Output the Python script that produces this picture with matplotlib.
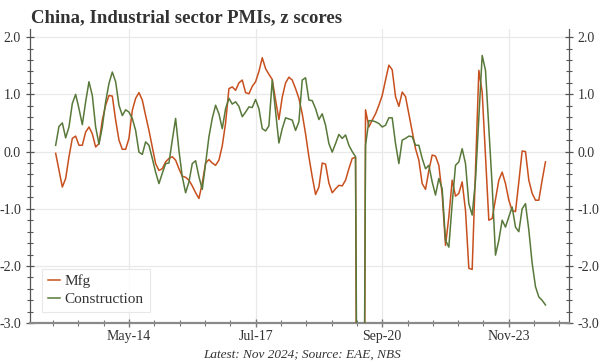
import numpy as np
import matplotlib.pyplot as plt
from matplotlib.ticker import FixedLocator, MultipleLocator, FormatStrFormatter

# z scores, monthly, first point mid-2012 .. latest Nov 2024
mfg = [-0.03, -0.33, -0.62, -0.47, -0.09, 0.23, 0.27, 0.11, 0.11, 0.34,
       0.43, 0.31, 0.08, 0.14, 0.55, 0.81, 0.98, 0.97, 0.55, 0.2,
       0.04, 0.04, 0.23, 0.72, 0.93, 1.03, 0.9, 0.63, 0.37, 0.08,
       -0.21, -0.33, -0.3, -0.18, -0.12, -0.09, -0.15, -0.3, -0.43, -0.45,
       -0.5, -0.6, -0.72, -0.82, -0.55, -0.2, -0.14, -0.2, -0.24, -0.15,
       0.1, 0.5, 1.1, 1.13, 1.07, 1.2, 1.25, 1.03, 1.01, 1.14,
       1.22, 1.4, 1.64, 1.45, 1.35, 1.26, 0.9, 0.56, 0.95, 1.2,
       1.3, 1.25, 1.1, 0.93, 0.66, 0.31, -0.09, -0.44, -0.75, -0.62,
       -0.2, -0.22, -0.55, -0.72, -0.65, -0.59, -0.6, -0.5, -0.3, -0.12,
       -0.1, -15.0, -15.0, 0.73, 0.43, 0.55, 0.66, 0.81, 0.98, 1.25,
       1.51, 1.43, 0.96, 0.79, 1.04, 0.96, 0.66, 0.37, 0.05, -0.15,
       -0.56, -0.66, -0.33, -0.06, -0.08, -0.24, -0.75, -1.64, -1.14, -0.5,
       -0.78, -0.73, -0.53, -1.03, -2.04, -2.06, -0.32, 1.42, 1.04, -0.09,
       -1.2, -1.17, -0.83, -0.5, -0.36, -0.56, -0.85, -1.03, -1.05, -0.53,
       0.01, 0.0, -0.5, -0.73, -0.85, -0.85, -0.5, -0.18]

constr = [0.11, 0.44, 0.5, 0.24, 0.43, 0.84, 1.0, 0.75, 0.47, 0.87,
          1.22, 0.98, 0.43, 0.13, 0.43, 0.87, 1.19, 1.39, 1.22, 0.81,
          0.63, 0.73, 0.69, 0.58, 0.37, -0.01, -0.05, 0.17, 0.11, -0.12,
          -0.36, -0.56, -0.38, -0.21, -0.2, 0.2, 0.58, 0.02, -0.44, -0.72,
          -0.53, -0.21, -0.16, -0.44, -0.66, -0.21, 0.26, 0.58, 0.81, 0.66,
          0.4, 0.75, 0.93, 0.83, 0.87, 0.79, 0.61, 0.69, 0.78, 0.77,
          0.91, 0.75, 0.4, 0.36, 0.45, 1.25, 0.7, 0.15, 0.4, 0.59,
          0.57, 0.55, 0.37, 0.52, 1.25, 1.29, 0.9, 0.89, 0.75, 0.56,
          0.66, 0.46, 0.14, -0.01, 0.14, 0.3, 0.23, 0.29, 0.11, 0.0,
          -0.09, -11.0, -11.0, 0.11, 0.54, 0.54, 0.52, 0.49, 0.43, 0.46,
          0.59, 0.59, 0.14, -0.21, 0.2, 0.23, 0.27, 0.26, 0.11, 0.11,
          -0.12, -0.3, -0.24, -0.53, -0.76, -0.47, -0.65, -1.55, -1.67, -0.91,
          -0.24, -0.18, 0.05, -0.21, -0.91, -1.11, -0.5, 0.6, 1.68, 1.42,
          0.4, -0.6, -1.81, -1.55, -1.2, -1.32, -1.14, -0.97, -1.32, -1.4,
          -1.0, -0.91, -1.37, -1.95, -2.36, -2.54, -2.6, -2.68]

tick_pos = [22, 60, 98, 136]
tick_labels = ['May-14', 'Jul-17', 'Sep-20', 'Nov-23']

x = np.arange(len(mfg))

serif = 'Liberation Serif'
c_mfg = '#c8501e'
c_con = '#58793a'

fig = plt.figure(figsize=(6, 3.64), dpi=100)
ax = fig.add_axes([0.05, 0.112, 0.898, 0.808])

ax.plot(x, mfg, color=c_mfg, lw=1.1, label='Mfg', zorder=3)
ax.plot(x, constr, color=c_con, lw=1.1, label='Construction', zorder=3)

ax.set_xlim(-7.7, 154)
ax.set_ylim(-3, 2.14)

ax.xaxis.set_major_locator(FixedLocator(tick_pos))
ax.set_xticklabels(tick_labels)
minor = np.arange(22 - 7.6 * 3, 155, 7.6)
ax.xaxis.set_minor_locator(FixedLocator([m for m in minor if min(abs(m - t) for t in tick_pos) > 1]))
ax.yaxis.set_major_locator(MultipleLocator(1.0))
ax.yaxis.set_minor_locator(MultipleLocator(0.2))
ax.yaxis.set_major_formatter(FormatStrFormatter('%.1f'))

ax.grid(which='major', color='#e9e9e9', lw=0.9, zorder=0)
ax.spines['top'].set_visible(False)
for s in ['left', 'right']:
    ax.spines[s].set_color('#555555')
    ax.spines[s].set_linewidth(0.9)
ax.spines['bottom'].set_color('#8a8a8a')
ax.spines['bottom'].set_linewidth(1.6)

ax.tick_params(axis='y', which='both', direction='inout', left=True, right=True,
               labelleft=True, labelright=True, colors='#555555',
               labelcolor='#333333', labelsize=10)
ax.tick_params(axis='y', which='major', length=6, width=0.9)
ax.tick_params(axis='y', which='minor', length=4, width=0.8)
ax.tick_params(axis='x', which='both', direction='inout', colors='#777777',
               labelcolor='#333333', labelsize=10, pad=2)
ax.tick_params(axis='x', which='major', length=6, width=1.0)
ax.tick_params(axis='x', which='minor', length=4, width=0.8)
for lab in ax.get_xticklabels() + ax.get_yticklabels():
    lab.set_family(serif)

leg = ax.legend(loc='lower left', bbox_to_anchor=(0.008, 0.012), frameon=True,
                fancybox=False, handlelength=0.8, handletextpad=0.3,
                borderpad=0.4, labelspacing=0.25, prop={'family': serif, 'size': 11})
leg.get_frame().set_edgecolor('#e3e3e3')
leg.get_frame().set_linewidth(0.8)
for t in leg.get_texts():
    t.set_color('#333333')

fig.text(0.052, 0.952, 'China, Industrial sector PMIs, z scores', family=serif,
         weight='bold', size=13.5, color='#333333', va='center', ha='left')
fig.text(0.503, 0.025, 'Latest: Nov 2024; Source: EAE, NBS', family=serif,
         style='italic', size=9.5, color='#333333', ha='center', va='center')

fig.savefig('out.png', dpi=100, facecolor='white')
